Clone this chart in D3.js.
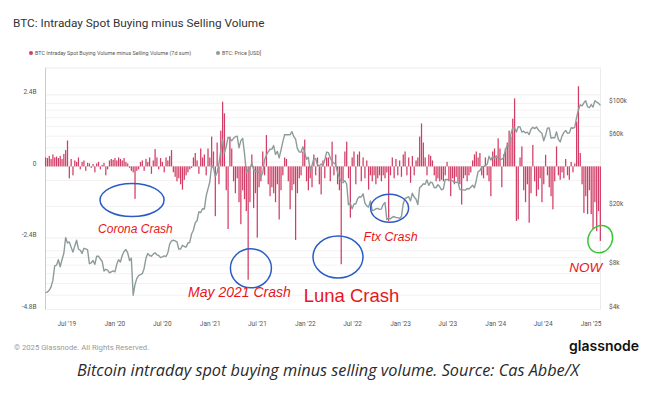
<!DOCTYPE html>
<html>
<head>
<meta charset="utf-8">
<script src="https://cdn.jsdelivr.net/npm/d3@7/dist/d3.min.js"></script>
<style>
  body { margin: 0; background: #fff; }
  svg { display: block; }
</style>
</head>
<body>
<div class="board"></div>
<script>
// weekly points, first week starts Mon 8 Apr 2019
var START = new Date(2019, 3, 8)

// BTC intraday spot buying minus selling volume, 7d sum (billions), one value per week
var flowValues = [
    0.3, 0.28, 0.35, 0.25, 0.4, 0.3, 0.33, 0.28, 0.35, 0.25, 0.42, 0.55, 0.87,
    -0.4, 0.25, -0.3, 0.2, 0.15, 0.3, -0.1, 0.15, 0.2, -0.15, 0.12, 0.1, -0.05, 0.08, -0.2, 0.1,
    0.15, -0.1, 0.05, 0.12, -0.3, -0.1, 0.2, 0.25, 0.22, 0.28, 0.2, 0.3, 0.25, 0.2, 0.28, 0.15,
    0.1, -0.05, -0.15, -0.2, -1.09, -0.15, -0.1, 0.15,
    0.2, -0.15, 0.25, 0.15, 0.3, -0.25, 0.2, 0.58, 0.3, -0.1, 0.28, 0.15, -0.2, 0.3, 0.2, 0.35,
    0.55, -0.2, -0.35, -0.5, -0.4, -0.6, -0.78, -0.45, -0.3, -0.2, -0.1, -0.05, 0.3, 0.45, 0.2,
    -0.25, 0.6, 0.3, 0.4, -0.3, 0.6, 0.3, 1.0, 0.5, -1.67, 0.8, -0.6, 1.2, 2.17, 1.78, -0.8, -2.1,
    1.0, 0.6,
    -0.5, -0.9, -0.4, -1.2, -1.94, -0.8, -1.1, -1.5, -3.8, -1.2, 0.4, -1.4, -0.9, -2.39, -0.7,
    -0.5, 0.5, -0.3, 1.05, -0.6, -1.0, -0.7, -0.9, -1.2, -0.6, -1.78, -0.8, -0.3, 0.3, 0.25, -0.5,
    -1.44, -0.8, -0.6, -2.47, -0.9, -0.4, -0.3, 0.5, 0.9, -0.5, -0.8, -0.4, -0.7, 0.4, -0.3, 0.3,
    -0.6, -0.94, 0.2, -0.4, 0.3,
    0.3, -0.5, 0.83, -0.3, 0.4, -0.6, -0.8, -3.28, -0.5, 0.5, 0.83, -0.4, -1.72, 0.3, 0.5, -0.6,
    0.4, 0.5, -0.5, 0.3, -0.4, 0.2, -0.78, -0.3, -0.5, -0.3, -0.6, -0.4, -0.3, -0.5, -0.3, -0.4,
    -0.2, -1.83, -0.3, 0.3, -0.4, 0.25, -0.3, 0.2, -0.35, 0.4, 0.5, -0.3, 0.3, -0.55, 0.35, -0.3,
    0.2, 0.3, 1.0, 1.44,
    0.8, 0.3, -0.3, 0.4, 0.35, 0.2, -0.3, -0.5, -0.4, -0.5, -0.45, -0.5, -0.3, 0.15, -0.5, -1.0,
    -0.4, -0.6, -0.35, -0.5, -0.6, -1.28, -0.4, -0.3, -0.5, -0.3, -0.2, 0.2, 0.4, 0.5, 0.3, 0.45,
    -0.3, -0.4, 0.3, -0.3, -0.5, -1.0, 0.5, 0.6, 0.3, 0.94, 0.6, -0.7, 0.4, 0.6, 0.8, 1.2, 1.0, 1.6,
    2.28, -1.83, -1.78, 0.3, 0.67, -0.8, -1.2, -0.6, -1.89, -0.9, 0.72, -0.5, -1.0, -0.78, -0.4,
    -1.2, -0.6, 0.39, -0.3, -0.7, -1.0, -1.44, -0.5, 0.67, -0.3, -0.45, -0.2, -0.4, 0.25, -0.3,
    -0.45, 0.15, -0.2, 0.1, 1.5, 2.69, 0.45, -0.6, -1.56, -1.0, -1.6, -0.8, -1.6, -2.1, -1.2,
    -2.17, -1.5, -2.5
]

// BTC price in USD, one value per week
var priceValues = [
    5200, 5250, 5400, 5700, 6300, 7900, 8000, 8700, 7800, 8700, 9600, 12300, 11300, 11500, 10600,
    9800, 10800, 11800, 10300, 10100, 9600, 10400, 10300, 10200, 8200, 8300, 8600, 8100, 9200,
    9200, 8800, 8500, 7300, 7500, 7400, 7100, 7200, 7300, 7200,
    8100, 8700, 8400, 9300, 9900, 10200, 9700, 8600, 8900, 5000, 5900, 6500, 6800, 6900, 7000,
    7600, 8900, 9600, 9300, 9200, 9500, 9700, 9400, 9300, 9000, 9100, 9250, 9150, 9700, 11100,
    11700, 11800, 11700, 11500, 10300, 10300, 10900, 10700, 10600, 11300, 11400, 13000, 13800,
    15500, 16000, 18400, 18200, 19300, 19200, 23500, 26300, 29300,
    38000, 36500, 32000, 34000, 39000, 47500, 57000, 46000, 51000, 59000, 58000, 55800, 58000,
    59500, 60000, 50000, 56000, 58000, 46000, 34000, 35500, 36000, 39500, 35500, 34700, 34700,
    34000, 31800, 33800, 41500, 44600, 47000, 48900, 49000, 51800, 45100, 47300, 42700, 48200,
    54900, 61500, 61300, 61300, 61500, 64400, 59700, 57200, 49400, 46900, 46700, 50800, 46300,
    41800, 43100, 35000, 37900, 42400, 42200, 38400, 37700, 38800, 37800, 41300, 46800, 46400,
    42700, 40400, 39400, 38500, 34000, 31300, 29400, 29000, 29900, 28400, 20500, 21000, 19300,
    20800, 20800, 22600, 23300, 23200, 24400, 21100, 20200, 19800, 21800, 18800, 18900, 19300,
    19400, 19100, 19200, 20600, 21300, 16300, 16700, 16500, 16900, 17100, 16800, 16800, 16600,
    17100, 20900, 22700, 23000, 23300, 21800, 24600, 23200, 22400, 20600, 26900, 27500, 28500,
    28300, 30300, 27800, 29300, 28900, 26800, 26900, 28100, 27200, 25900, 26300, 30500, 30500,
    30200, 30300, 29800, 29300, 29100, 29400, 26100, 26000, 25900, 25800, 26500, 26300, 27000,
    27900, 26800, 29900, 34500, 35000, 37100, 37400, 37800, 38700, 43800, 41300, 43600, 42300,
    44100, 42800, 41600, 41800, 43000, 48300, 52100, 51600, 62000, 68500, 68400, 64000, 69600,
    69300, 64000, 64900, 63100, 63900, 61500, 66900, 69000, 67500, 69300, 66200, 64300, 62700,
    55800, 60800, 68000, 68200, 58100, 58700, 58400, 64200, 57300, 54800, 60000, 63400, 65600,
    62800, 62900, 68400, 67900, 68800, 80400, 90600, 98000, 96400, 101000, 104400, 95000, 93500,
    98300,
    94500, 104500, 102000, 100600, 97000
]

var xTickDates = ["2019-07-01", "2020-01-01", "2020-07-01", "2021-01-01", "2021-07-01", "2022-01-01",
    "2022-07-01", "2023-01-01", "2023-07-01", "2024-01-01", "2024-07-01", "2025-01-01"]
var xTickLabels = ["Jul '19", "Jan '20", "Jul '20", "Jan '21", "Jul '21", "Jan '22",
    "Jul '22", "Jan '23", "Jul '23", "Jan '24", "Jul '24", "Jan '25"]
var flowTicks = [2.4, 0, -2.4, -4.8]
var flowTickLabels = ["2.4B", "0", "-2.4B", "-4.8B"]
var priceTicks = [100000, 60000, 20000, 8000, 4000]
var priceTickLabels = ["$100k", "$60k", "$20k", "$8k", "$4k"]
var priceGrid = [5000, 6000, 7000, 8000, 9000, 10000, 20000, 30000, 40000, 50000, 60000, 70000, 80000, 90000, 100000]

// hand drawn marks put on the picture: date, value (B) at centre
var circles = [
    { date: "2020-03-07", value: -1.13, rx: 32, ry: 16.5, color: "#2b5cc6", rot: 0 },
    { date: "2021-06-06", value: -3.42, rx: 20.5, ry: 19.5, color: "#2b5cc6", rot: 0 },
    { date: "2022-05-06", value: -3.04, rx: 25, ry: 21, color: "#2b5cc6", rot: 0 },
    { date: "2022-11-20", value: -1.40, rx: 19, ry: 14, color: "#2b5cc6", rot: 0 },
    { date: "2025-02-05", value: -2.44, rx: 12, ry: 14, color: "#3cc43a", rot: 25 }
]
var notes = [
    { text: "Corona Crash", date: "2020-03-20", value: -2.23, size: 12, italic: true },
    { text: "May 2021 Crash", date: "2021-04-23", value: -4.38, size: 14, italic: true },
    { text: "Luna Crash", date: "2022-06-27", value: -4.55, size: 18.5, italic: false },
    { text: "Ftx Crash", date: "2022-11-24", value: -2.50, size: 12.5, italic: true },
    { text: "NOW", date: "2024-12-11", value: -3.54, size: 13.5, italic: true }
]

var W = 646, H = 394
var plot = { left: 45.5, right: 600.5, top: 68, bottom: 309.5 }
var parse = d3.timeParse("%Y-%m-%d")
var dates = flowValues.map((d, i) => d3.timeDay.offset(START, 7 * i))

var svg = d3.select(".board")
    .append("svg")
    .attr("width", W)
    .attr("height", H)
    .style("font-family", "Roboto, 'Open Sans', sans-serif")

let xScale = d3.scaleTime()
    .domain([new Date(2019, 3, 10), new Date(2025, 1, 6)])
    .range([plot.left, plot.right])

let yFlow = d3.scaleLinear()
    .domain([-4.8, 3.3])
    .range([plot.bottom, plot.top])

let yPrice = d3.scaleLog()
    .domain([4000, 174000])
    .range([plot.bottom, plot.top])

// title + legend
svg.append("text")
    .attr("x", 13)
    .attr("y", 27)
    .attr("fill", "#333")
    .attr("font-size", 11.8)
    .text("BTC: Intraday Spot Buying minus Selling Volume")

svg.append("circle").attr("cx", 31).attr("cy", 53).attr("r", 2).attr("fill", "#d23d66")
svg.append("text").attr("x", 35).attr("y", 55)
    .attr("font-size", 5.4).attr("fill", "#555")
    .text("BTC Intraday Spot Buying Volume minus Selling Volume (7d sum)")
svg.append("circle").attr("cx", 218).attr("cy", 53).attr("r", 2).attr("fill", "#8e9b9b")
svg.append("text").attr("x", 222).attr("y", 55)
    .attr("font-size", 5.4).attr("fill", "#555")
    .text("BTC: Price [USD]")

// panel + grid
svg.append("rect")
    .attr("x", plot.left).attr("y", plot.top)
    .attr("width", plot.right - plot.left).attr("height", plot.bottom - plot.top)
    .attr("fill", "none").attr("stroke", "#ececec")

svg.selectAll(".pgrid")
    .data(priceGrid)
    .enter()
    .append("line")
    .attr("x1", plot.left).attr("x2", plot.right)
    .attr("y1", d => yPrice(d)).attr("y2", d => yPrice(d))
    .attr("stroke", "#f2f2f2")

svg.selectAll(".fgrid")
    .data(flowTicks)
    .enter()
    .append("line")
    .attr("x1", plot.left).attr("x2", plot.right)
    .attr("y1", d => yFlow(d)).attr("y2", d => yFlow(d))
    .attr("stroke", "#efefef")

svg.append("line")
    .attr("x1", plot.left).attr("x2", plot.left)
    .attr("y1", plot.top).attr("y2", plot.bottom)
    .attr("stroke", "#f1b9c9")

// bars
svg.selectAll(".bar")
    .data(flowValues)
    .enter()
    .append("rect")
    .attr("fill", "#d23d66")
    .attr("x", (d, i) => xScale(dates[i]))
    .attr("width", 1.25)
    .attr("y", d => d > 0 ? yFlow(d) : yFlow(0))
    .attr("height", d => Math.abs(yFlow(d) - yFlow(0)))

// price
svg.append("path")
    .datum(priceValues)
    .attr("fill", "none")
    .attr("stroke", "#8e9b9b")
    .attr("stroke-width", 1.4)
    .attr("stroke-linejoin", "round")
    .attr("d", d3.line()
        .x((d, i) => xScale(dates[i]) + 0.6)
        .y(d => yPrice(d)))

// axes labels
svg.selectAll(".fl")
    .data(flowTicks)
    .enter()
    .append("text")
    .attr("x", 36.5)
    .attr("y", d => yFlow(d) - 0.5)
    .attr("text-anchor", "end")
    .attr("font-size", 6.5)
    .attr("fill", "#555")
    .text((d, i) => flowTickLabels[i])

svg.selectAll(".pl")
    .data(priceTicks)
    .enter()
    .append("text")
    .attr("x", 609)
    .attr("y", d => yPrice(d) - 0.5)
    .attr("font-size", 6.5)
    .attr("fill", "#555")
    .text((d, i) => priceTickLabels[i])

svg.selectAll(".xl")
    .data(xTickDates)
    .enter()
    .append("text")
    .attr("x", d => xScale(parse(d)))
    .attr("y", 326)
    .attr("text-anchor", "middle")
    .attr("font-size", 6.5)
    .attr("fill", "#555")
    .text((d, i) => xTickLabels[i])

// annotations
svg.selectAll(".ring")
    .data(circles)
    .enter()
    .append("ellipse")
    .attr("cx", d => xScale(parse(d.date)))
    .attr("cy", d => yFlow(d.value))
    .attr("rx", d => d.rx)
    .attr("ry", d => d.ry)
    .attr("transform", d => `rotate(${d.rot}, ${xScale(parse(d.date))}, ${yFlow(d.value)})`)
    .attr("fill", "none")
    .attr("stroke", d => d.color)
    .attr("stroke-width", 1.5)

svg.selectAll(".note")
    .data(notes)
    .enter()
    .append("text")
    .attr("x", d => xScale(parse(d.date)))
    .attr("y", d => yFlow(d.value))
    .attr("text-anchor", "middle")
    .attr("font-family", "'Liberation Sans', Arial, sans-serif")
    .attr("font-style", d => d.italic ? "italic" : "normal")
    .attr("font-size", d => d.size)
    .attr("fill", "#e8151b")
    .text(d => d.text)

// footer
svg.append("text")
    .attr("x", 14).attr("y", 350)
    .attr("font-size", 7.7).attr("fill", "#999")
    .text("© 2025 Glassnode. All Rights Reserved.")

svg.append("text")
    .attr("x", 639).attr("y", 351)
    .attr("text-anchor", "end")
    .attr("font-family", "Inter, Roboto, sans-serif")
    .attr("font-weight", 600)
    .attr("font-size", 14)
    .attr("fill", "#111")
    .text("glassnode")

svg.append("text")
    .attr("x", 328).attr("y", 376)
    .attr("text-anchor", "middle")
    .attr("font-family", "'Open Sans', sans-serif")
    .attr("font-style", "italic")
    .attr("font-size", 16.3)
    .attr("fill", "#2a2a2a")
    .text("Bitcoin intraday spot buying minus selling volume. Source: Cas Abbe/X")
</script>
</body>
</html>
